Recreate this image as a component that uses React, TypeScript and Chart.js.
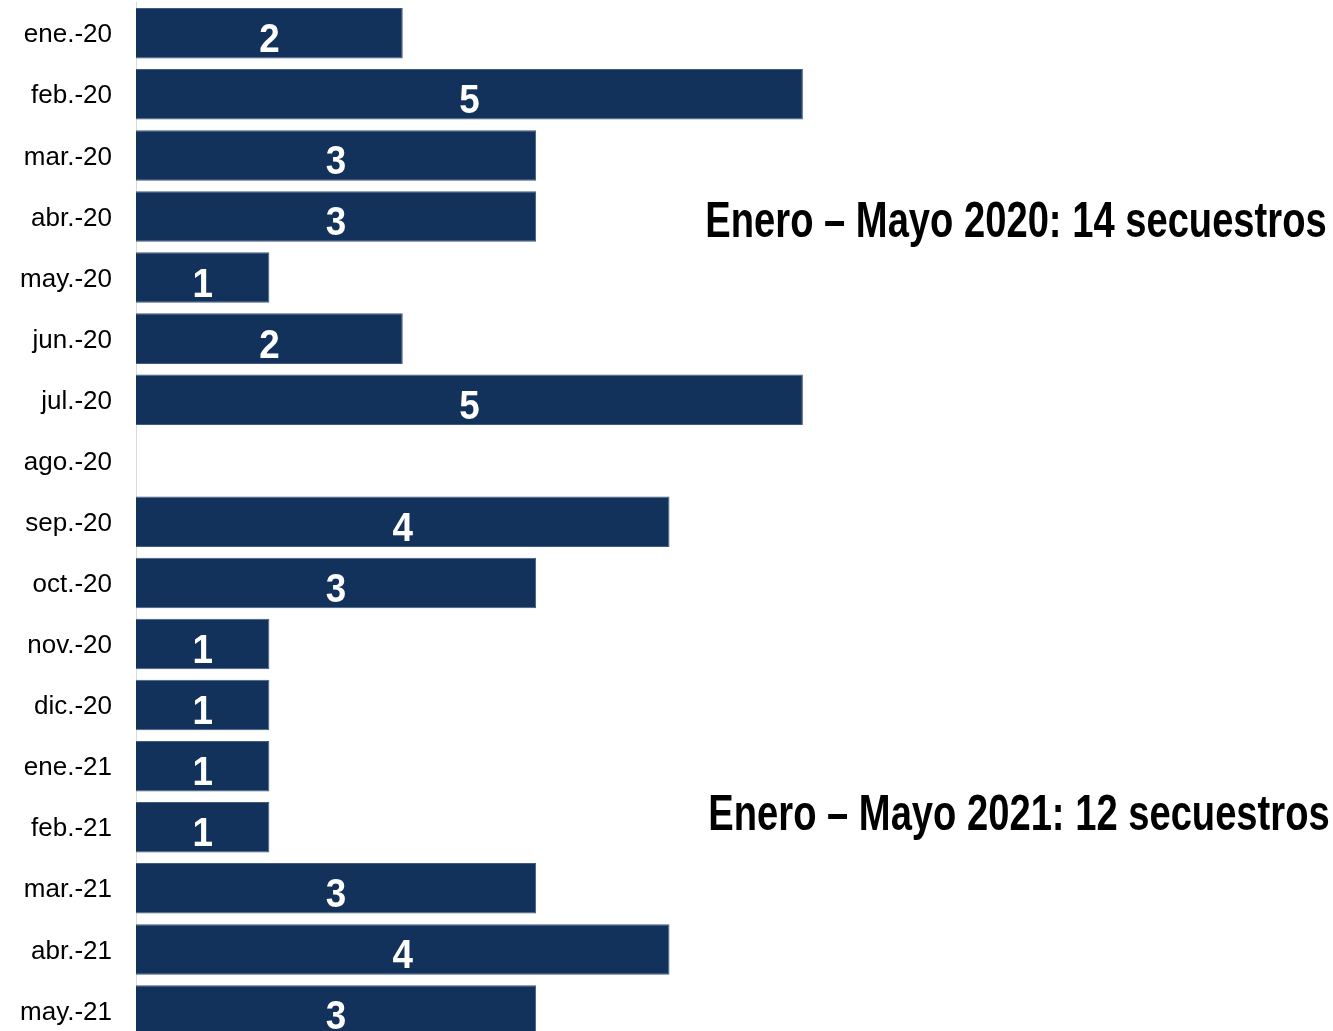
import React, { useEffect, useRef } from "react";
import { Chart, registerables } from "chart.js";

Chart.register(...registerables);

const categories = [
  "ene.-20", "feb.-20", "mar.-20", "abr.-20", "may.-20", "jun.-20", "jul.-20", "ago.-20",
  "sep.-20", "oct.-20", "nov.-20", "dic.-20", "ene.-21", "feb.-21", "mar.-21", "abr.-21", "may.-21",
];
const secuestros = [2, 5, 3, 3, 1, 2, 5, 0, 4, 3, 1, 1, 1, 1, 3, 4, 3];
const annotations = [
  { text: "Enero – Mayo 2020: 14 secuestros", category: "abr.-20", dy: 21, x: 1016 },
  { text: "Enero – Mayo 2021: 12 secuestros", category: "feb.-21", dy: 3, x: 1019 },
];

const BAR = "#12315b";

const labelPlugin = {
  id: "labels",
  afterDatasetsDraw(chart: any) {
    const ctx = chart.ctx;
    const meta = chart.getDatasetMeta(0);
    ctx.save();
    ctx.fillStyle = "#ffffff";
    ctx.font = "bold 40px 'Liberation Sans', Arial, sans-serif";
    ctx.textAlign = "center";
    ctx.textBaseline = "alphabetic";
    meta.data.forEach((el: any, i: number) => {
      const v = secuestros[i];
      if (!v) return;
      const cx = (el.base + el.x) / 2;
      const cy = el.y + 19;
      ctx.save();
      ctx.translate(cx, cy);
      ctx.scale(0.92, 1);
      ctx.fillText(String(v), 0, 0);
      ctx.restore();
    });
    ctx.restore();
  },
  afterDraw(chart: any) {
    const ctx = chart.ctx;
    const y = chart.scales.y;
    ctx.save();
    ctx.fillStyle = "#000000";
    ctx.font = "bold 50px 'Liberation Sans', Arial, sans-serif";
    ctx.textAlign = "center";
    ctx.textBaseline = "alphabetic";
    annotations.forEach((a) => {
      const idx = categories.indexOf(a.category);
      const py = y.getPixelForValue(idx) + a.dy;
      ctx.save();
      ctx.translate(a.x, py);
      ctx.scale(0.763, 1);
      ctx.fillText(a.text, 0, 0);
      ctx.restore();
    });
    ctx.restore();
  },
};

export default function App() {
  const ref = useRef<HTMLCanvasElement>(null);
  useEffect(() => {
    if (!ref.current) return;
    const chart = new Chart(ref.current, {
      type: "bar",
      data: {
        labels: categories,
        datasets: [
          {
            data: secuestros,
            backgroundColor: BAR,
            borderColor: "#3f5b80",
            borderWidth: 1,
            barPercentage: 0.827,
            categoryPercentage: 1,
          },
        ],
      },
      options: {
        indexAxis: "y",
        animation: false,
        responsive: false,
        maintainAspectRatio: false,
        layout: { padding: { top: 2.7, bottom: 0, left: 0, right: 130 } },
        plugins: { legend: { display: false }, tooltip: { enabled: false } },
        scales: {
          x: { display: false, min: 0, max: 8 },
          y: {
            grid: { display: false, drawTicks: false },
            border: { display: true, color: "#d9d9d9", width: 1 },
            ticks: {
              padding: 24,
              labelOffset: 2,
              color: "#000000",
              font: { family: "'Liberation Sans', Arial, sans-serif", size: 26 },
            },
            afterFit(scale: any) {
              scale.width = 136;
              scale.paddingTop = 0;
              scale.paddingBottom = 0;
            },
          },
        },
      },
      plugins: [labelPlugin],
    });
    return () => chart.destroy();
  }, []);
  return (
    <div style={{ position: "fixed", left: 0, top: 0, width: 1333, height: 1031, overflow: "hidden", background: "#fff" }}>
      <canvas ref={ref} width={1333} height={1041} style={{ display: "block" }} />
    </div>
  );
}
